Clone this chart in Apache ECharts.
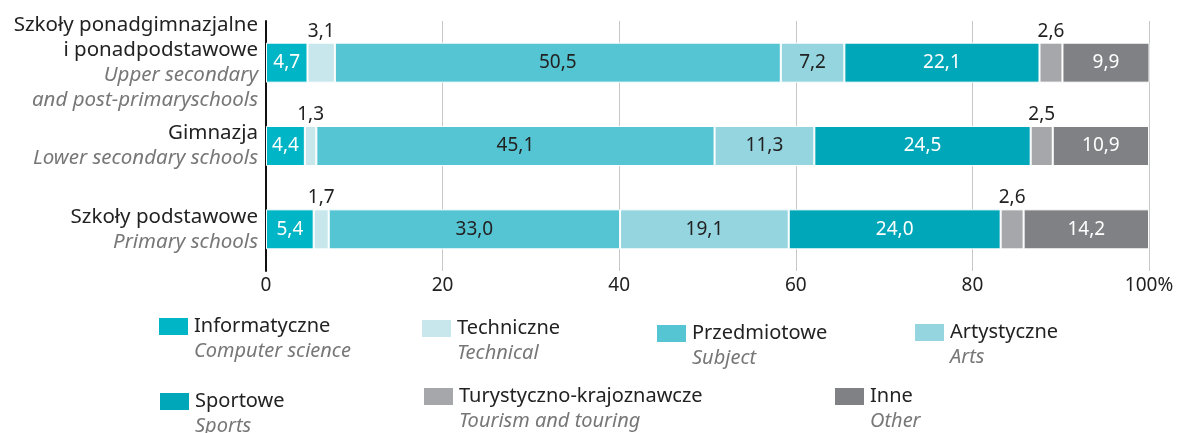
<!DOCTYPE html>
<html>
<head>
<meta charset="utf-8">
<script src="https://cdn.jsdelivr.net/npm/echarts@6/dist/echarts.min.js"></script>
<style>
  html, body { margin: 0; padding: 0; background: #fff; }
  #chart { width: 1186px; height: 433px; }
</style>
</head>
<body>
<div id="chart"></div>
<script>
// School levels (top to bottom), Polish name + English name
const categoriesPl = ['Szkoły ponadgimnazjalne\ni ponadpodstawowe', 'Gimnazja', 'Szkoły podstawowe'];
const categoriesEn = ['Upper secondary\nand post-primaryschools', 'Lower secondary schools', 'Primary schools'];

// Club types
const seriesPl = ['Informatyczne', 'Techniczne', 'Przedmiotowe', 'Artystyczne', 'Sportowe', 'Turystyczno-krajoznawcze', 'Inne'];
const seriesEn = ['Computer science', 'Technical', 'Subject', 'Arts', 'Sports', 'Tourism and touring', 'Other'];
const seriesColors = ['#00b5c5', '#c8e7ed', '#56c5d3', '#95d5df', '#00a7b8', '#a6a7ab', '#808184'];
// label colour inside bars; narrow segments are labelled above the bar
const labelColors = ['#ffffff', '#222222', '#222222', '#222222', '#ffffff', '#222222', '#ffffff'];
const labelOnTop = [false, true, false, false, false, true, false];

// Shares in % per school level, same order as categories
const informatyczne = [4.7, 4.4, 5.4];
const techniczne = [3.1, 1.3, 1.7];
const przedmiotowe = [50.5, 45.1, 33.0];
const artystyczne = [7.2, 11.3, 19.1];
const sportowe = [22.1, 24.5, 24.0];
const turystyczne = [2.6, 2.5, 2.6];
const inne = [9.9, 10.9, 14.2];
const seriesValues = [informatyczne, techniczne, przedmiotowe, artystyczne, sportowe, turystyczne, inne];

// x-axis ticks
const xTicks = [0, 20, 40, 60, 80, 100];

const FONT = 'Noto Sans';
const fmt = v => v.toFixed(1).replace('.', ',');

// Legend placement for each club type
const legendPos = [
  { left: 157, top: 316 },
  { left: 420, top: 318 },
  { left: 655, top: 323 },
  { left: 913, top: 322 },
  { left: 158, top: 391 },
  { left: 422, top: 386 },
  { left: 833, top: 386 }
];

const chart = echarts.init(document.getElementById('chart'), null, { renderer: 'canvas' });

const series = seriesPl.map((name, i) => ({
  name: name,
  type: 'bar',
  stack: 'total',
  barWidth: 40,
  data: seriesValues[i],
  itemStyle: { color: seriesColors[i], borderColor: '#ffffff', borderWidth: 1 },
  label: {
    show: true,
    position: labelOnTop[i] ? 'top' : 'inside',
    distance: 2,
    color: labelColors[i],
    fontFamily: FONT,
    fontSize: 19,
    formatter: p => fmt(p.value)
  },
  emphasis: { disabled: true }
}));

const legends = seriesPl.map((name, i) => ({
  data: [name],
  left: legendPos[i].left,
  top: legendPos[i].top,
  padding: 0,
  icon: 'rect',
  itemWidth: 31,
  itemHeight: 19,
  itemGap: 0,
  selectedMode: false,
  formatter: n => '{a|' + n + '}\n{b|' + seriesEn[i] + '}',
  textStyle: {
    padding: [25, 0, 0, 0],
    rich: {
      a: { fontFamily: FONT, fontSize: 20, color: '#222', lineHeight: 25 },
      b: { fontFamily: FONT, fontSize: 20, color: '#777', fontStyle: 'italic', lineHeight: 25 }
    }
  }
}));

chart.setOption({
  animation: false,
  backgroundColor: '#ffffff',
  grid: { left: 266, right: 37, top: 21, height: 250, containLabel: false },
  legend: legends,
  xAxis: {
    type: 'value',
    min: 0,
    max: 100,
    interval: 20,
    axisLine: { show: false },
    axisTick: { show: false },
    splitLine: { show: true, lineStyle: { color: '#c8c8c8', width: 1 } },
    axisLabel: {
      fontFamily: FONT,
      fontSize: 19,
      color: '#222',
      margin: 5,
      formatter: v => (xTicks.indexOf(v) === xTicks.length - 1 ? v + '%' : String(v))
    }
  },
  yAxis: {
    type: 'category',
    inverse: true,
    data: categoriesPl,
    axisLine: { show: true, lineStyle: { color: '#111', width: 2 } },
    axisTick: { show: false },
    axisLabel: {
      margin: 8,
      align: 'right',
      formatter: (v, idx) => {
        const pl = v.split('\n').map(s => '{a|' + s + '}').join('\n');
        const en = categoriesEn[idx].split('\n').map(s => '{b|' + s + '}').join('\n');
        return pl + '\n' + en;
      },
      rich: {
        a: { fontFamily: FONT, fontSize: 20.5, color: '#222', lineHeight: 25, align: 'right' },
        b: { fontFamily: FONT, fontSize: 20.5, color: '#777', fontStyle: 'italic', lineHeight: 25, align: 'right' }
      }
    }
  },
  series: series
});
</script>
</body>
</html>
